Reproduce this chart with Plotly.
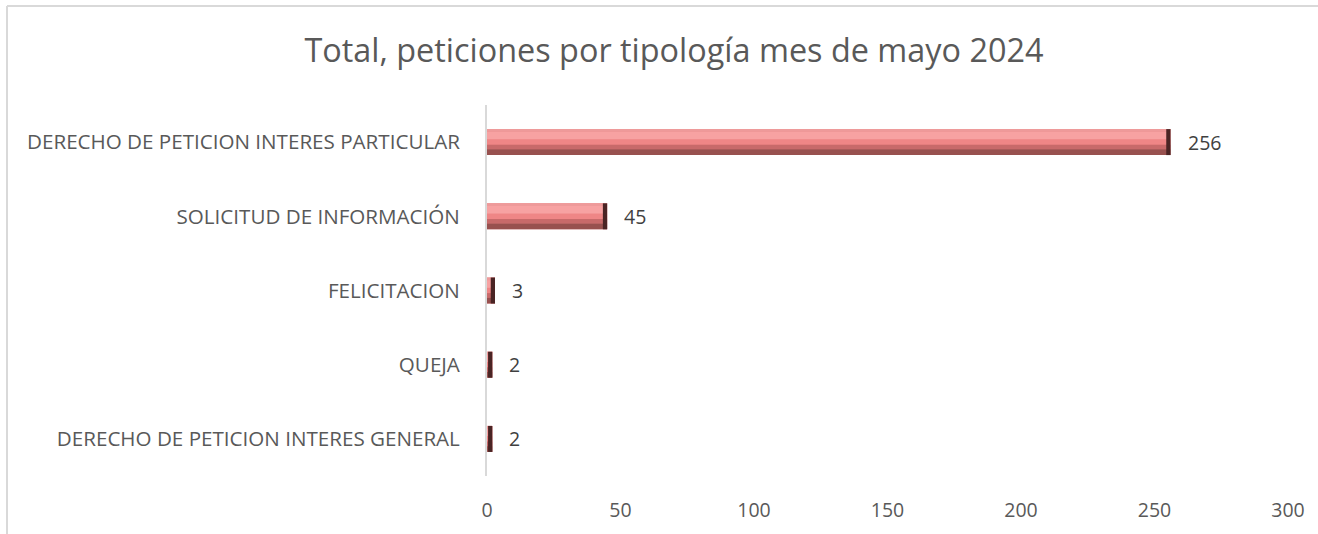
import plotly.graph_objects as go

# Datos del grafico (de abajo hacia arriba)
categorias = [
    "DERECHO DE PETICION INTERES GENERAL",
    "QUEJA",
    "FELICITACION",
    "SOLICITUD DE INFORMACIÓN",
    "DERECHO DE PETICION INTERES PARTICULAR",
]
valores = [2, 2, 3, 45, 256]
ticks_x = [0, 50, 100, 150, 200, 250, 300]

titulo = "Total, peticiones por tipología mes de mayo 2024"

W, H = 1318, 534
ML, MR, MT, MB = 487, 30, 105, 58
FUENTE = "Open Sans, sans-serif"

fig = go.Figure()

# barra con efecto de bisel: bandas horizontales superpuestas
bar_w = 0.35
bandas = [
    # (offset desde arriba en fraccion, grosor en fraccion, color)
    (0.00, 1.00, "#E98585"),
    (0.00, 0.10, "#EE9A9A"),
    (0.10, 0.30, "#F7A2A2"),
    (0.40, 0.20, "#EF8686"),
    (0.60, 0.18, "#C86A6A"),
    (0.78, 0.22, "#98514F"),
]
for off, th, col in bandas:
    fig.add_trace(go.Bar(
        y=categorias, x=valores, orientation="h",
        width=bar_w * th,
        offset=bar_w / 2 - bar_w * (off + th),
        marker=dict(color=col, line=dict(width=0)),
        hoverinfo="skip", showlegend=False,
    ))

# extremo derecho oscuro
cap = 1.6
fig.add_trace(go.Bar(
    y=categorias, x=[min(cap, v) for v in valores],
    base=[v - min(cap, v) for v in valores],
    orientation="h", width=bar_w, offset=-bar_w / 2,
    marker=dict(color="#4A2424", line=dict(width=0)),
    hoverinfo="skip", showlegend=False,
))

# etiquetas de datos
for c, v in zip(categorias, valores):
    fig.add_annotation(
        x=v, y=c, text=str(v), showarrow=False,
        xanchor="left", xshift=15,
        font=dict(family=FUENTE, size=19.5, color="#404040"),
    )

# marco del grafico (solo izquierda y arriba visibles)
pw = W - ML - MR
ph = H - MT - MB
x0 = (7 - ML) / pw
y0 = (H - MB - 6) / ph
fig.add_shape(type="line", xref="paper", yref="paper",
              x0=x0, x1=(W + 5 - ML) / pw, y0=y0, y1=y0,
              line=dict(color="#D9D9D9", width=2))
fig.add_shape(type="line", xref="paper", yref="paper",
              x0=x0, x1=x0, y0=y0, y1=-(MB + 5) / ph,
              line=dict(color="#D9D9D9", width=2))

fig.update_layout(
    width=W, height=H,
    margin=dict(l=ML, r=MR, t=MT, b=MB),
    paper_bgcolor="white", plot_bgcolor="white",
    barmode="overlay",
    title=dict(text=titulo, x=(305 + 1043) / 2 / W, xanchor="center",
               y=1 - 51 / H, yanchor="middle",
               font=dict(family=FUENTE, size=32.4, color="#595959")),
    font=dict(family=FUENTE, size=19, color="#595959"),
    xaxis=dict(range=[0, 300], tickvals=ticks_x, showgrid=False,
               zeroline=False, showline=False, ticks="",
               ticklabelstandoff=20,
               tickfont=dict(size=19.5, color="#595959")),
    yaxis=dict(range=[-0.5, 4.5], showgrid=False, zeroline=False,
               showline=True, linecolor="#D9D9D9", linewidth=2,
               ticks="", ticklabelstandoff=21,
               tickfont=dict(size=20.6, color="#595959")),
)

fig.write_html("out.html", config={"displayModeBar": False},
               post_script="document.body.style.margin='0';")
